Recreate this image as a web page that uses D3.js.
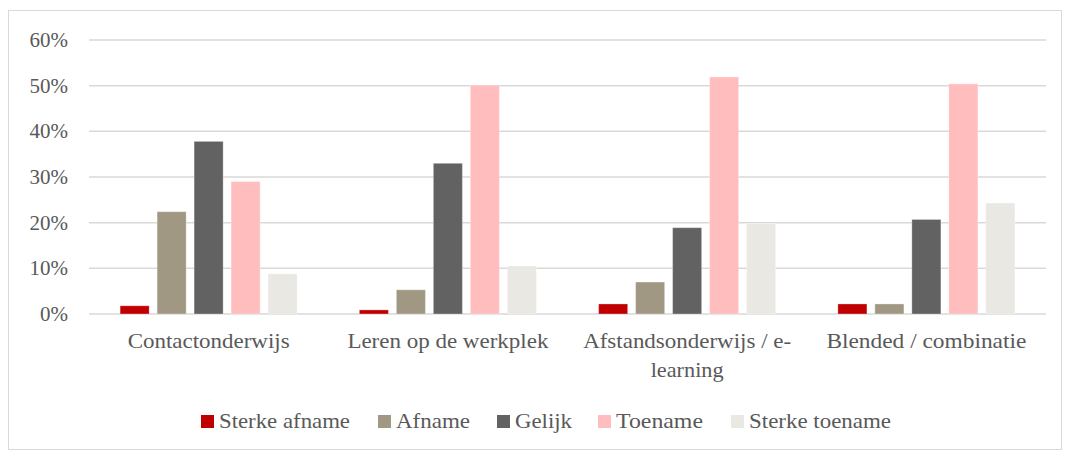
<!DOCTYPE html>
<html><head><meta charset="utf-8">
<script src="https://cdn.jsdelivr.net/npm/d3@7"></script>
<style>body{margin:0;background:#fff;}svg{display:block;}</style>
</head><body>
<script>
const categories = ["Contactonderwijs", "Leren op de werkplek", "Afstandsonderwijs / e-learning", "Blended / combinatie"];
const categoryLines = [["Contactonderwijs"], ["Leren op de werkplek"], ["Afstandsonderwijs / e-", "learning"], ["Blended / combinatie"]];
const seriesNames = ["Sterke afname", "Afname", "Gelijk", "Toename", "Sterke toename"];
const seriesColors = ["#C00000", "#A09883", "#626262", "#FFBDBE", "#EAE8E3"];
const sterkeAfname = [1.8, 0.9, 2.2, 2.2];
const afname = [22.4, 5.3, 7.0, 2.2];
const gelijk = [37.8, 33.0, 18.9, 20.7];
const toename = [29.0, 50.1, 51.9, 50.4];
const sterkeToename = [8.8, 10.5, 19.8, 24.3];
const yTicks = [0, 10, 20, 30, 40, 50, 60];
const seriesValues = [sterkeAfname, afname, gelijk, toename, sterkeToename];

(function () {
const W = 1065, H = 453;
const svg = d3.select("body").append("svg").attr("width", W).attr("height", H);
const font = '"Liberation Serif", "Times New Roman", serif';
const textColor = "#595959";
// layout widths to mimic the original Garamond text extents
const catLineWidths = [[162], [201], [208, 73], [200]];
const legendTextWidths = [131, 74, 57, 87, 142];
const legendX = [201, 378, 497, 598, 731];

svg.append("rect").attr("x", 8.5).attr("y", 10.5).attr("width", 1053).attr("height", 439)
  .attr("fill", "#fff").attr("stroke", "#d9d9d9").attr("stroke-width", 1);

const pLeft = 89, pRight = 1046, pTop = 40, pBottom = 314;
const x0 = d3.scaleBand().domain(categories).range([pLeft, pRight]).paddingInner(0).paddingOuter(0);
const groupW = 177;
const x1 = d3.scaleBand().domain(seriesNames).range([0, groupW]).paddingInner(0.215).paddingOuter(0);
const y = d3.scaleLinear().domain([0, 60]).range([pBottom, pTop]);

svg.append("g").selectAll("line").data(yTicks).join("line")
  .attr("x1", pLeft).attr("x2", pRight)
  .attr("y1", d => y(d)).attr("y2", d => y(d))
  .attr("stroke", "#d9d9d9").attr("stroke-width", 1.5);

svg.append("g").selectAll("text").data(yTicks).join("text")
  .attr("x", 68).attr("y", d => y(d) + 7)
  .attr("text-anchor", "end").style("font-family", font).style("font-size", "21px")
  .attr("fill", textColor).text(d => d + "%");

const groups = svg.append("g").selectAll("g").data(categories).join("g")
  .attr("transform", c => `translate(${x0(c) + (x0.bandwidth() - groupW) / 2},0)`);
groups.selectAll("rect").data((c, ci) => seriesNames.map((s, si) => ({s, si, v: seriesValues[si][ci]})))
  .join("rect")
  .attr("x", d => x1(d.s)).attr("width", x1.bandwidth())
  .attr("y", d => y(d.v)).attr("height", d => pBottom - y(d.v))
  .attr("fill", d => seriesColors[d.si])
  .attr("stroke", "#fff").attr("stroke-opacity", 0.3).attr("stroke-width", 1);

const catG = svg.append("g");
categories.forEach((c, i) => {
  const cx = x0(c) + x0.bandwidth() / 2;
  categoryLines[i].forEach((ln, li) => {
    catG.append("text").attr("x", cx).attr("y", 348 + li * 28.5)
      .attr("text-anchor", "middle").style("font-family", font).style("font-size", "21px")
      .attr("fill", textColor)
      .attr("textLength", catLineWidths[i][li]).attr("lengthAdjust", "spacingAndGlyphs")
      .text(ln);
  });
});

const lg = svg.append("g");
seriesNames.forEach((s, i) => {
  lg.append("rect").attr("x", legendX[i]).attr("y", 415).attr("width", 13).attr("height", 13).attr("fill", seriesColors[i]);
  lg.append("text").attr("x", legendX[i] + 18).attr("y", 428)
    .style("font-family", font).style("font-size", "21px").attr("fill", textColor)
    .attr("textLength", legendTextWidths[i]).attr("lengthAdjust", "spacingAndGlyphs")
    .text(s);
});
})();
</script>
</body></html>
